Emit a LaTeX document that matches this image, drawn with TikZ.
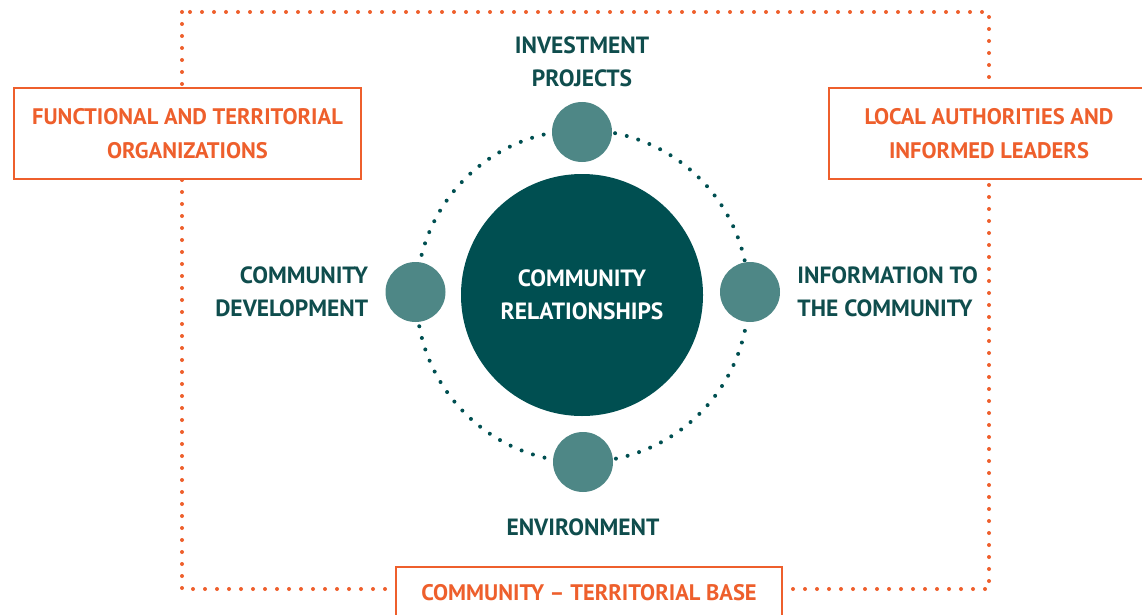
\documentclass[tikz,border=0pt]{standalone}
\usepackage{fontspec}
\setmainfont{PT Sans}
\usetikzlibrary{positioning}
\definecolor{crDeep}{HTML}{004F51}
\definecolor{crMid}{HTML}{4E8786}
\definecolor{crText}{HTML}{0F4D4D}
\definecolor{crOrange}{HTML}{EE5F2C}

\begin{document}
\begin{tikzpicture}[x=1pt,y=-1pt,
  hub/.style={circle,fill=crDeep,minimum size=242pt,inner sep=0pt,text=white,font=\bfseries\fontsize{23.5}{33}\selectfont,align=center},
  spoke/.style={circle,fill=crMid,minimum size=60pt,inner sep=0pt},
  lbl/.style={text=crText,inner sep=0pt,font=\bfseries\fontsize{23.5}{33}\selectfont},
  frame/.style={draw=crOrange,line width=1.2pt,fill=white,text=crOrange,font=\bfseries\fontsize{22.5}{34}\selectfont,align=center},
  dots/.style={line width=4pt,line cap=round,dash pattern=on 0pt off 12pt}
]
\useasboundingbox (0,0) rectangle (1142,615);
% outer frame and ring
\draw[dots,crOrange] (182,12) rectangle (989,589);
\draw[dots,crDeep] (582.5,296) circle[radius=166pt];
% centre and spokes
\node[hub] (hub) at (582,295) {COMMUNITY\\RELATIONSHIPS};
\node[spoke] (top) at (582,132) {};
\node[spoke] (left) at (415.5,292) {};
\node[spoke] (right) at (750,292) {};
\node[spoke] (bottom) at (583,462) {};
% labels
\node[lbl,align=center,above=15pt of top] (invest) {INVESTMENT\\PROJECTS};
\node[lbl,align=right,left=17pt of left] (dev) {COMMUNITY\\DEVELOPMENT};
\node[lbl,align=left,right=17pt of right] (info) {INFORMATION TO\\THE COMMUNITY};
\node[lbl,below=26pt of bottom] (env) {ENVIRONMENT};
% orange boxes
\node[frame,minimum width=347pt,minimum height=91pt] (orgs) at (187.5,133.5) {FUNCTIONAL AND TERRITORIAL\\ORGANIZATIONS};
\node[frame,minimum width=320pt,minimum height=91pt] (leaders) at (989,133.5) {LOCAL AUTHORITIES AND\\INFORMED LEADERS};
\node[frame,minimum width=386pt,minimum height=52pt] (base) at (589,593) {COMMUNITY -- TERRITORIAL BASE};
\end{tikzpicture}
\end{document}
